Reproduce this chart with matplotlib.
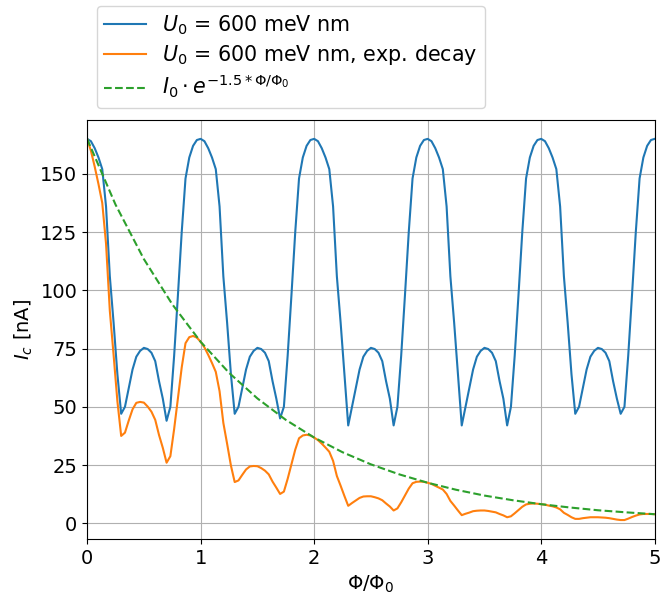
import numpy as np
import matplotlib
matplotlib.use("Agg")
import matplotlib.pyplot as plt
from matplotlib.ticker import MultipleLocator

plt.rcParams['font.size'] = 14

# flux axis, Phi/Phi0 (151 samples, 0..5)
phi = np.linspace(0, 5, 151)

# critical current, U0 = 600 meV nm  [nA]
ic_blue = [
    165, 164, 161, 157, 152, 136, 106, 86, 64, 47, 50, 58, 66, 71.5, 74, 75.3, 74.8, 73.2, 69.6, 61, 53.5, 44, 50, 72, 98, 125, 148, 157, 162, 164.5,
    165, 164, 161, 157, 152, 136, 106, 86, 64, 47, 50, 58, 66, 71.5, 74, 75.3, 74.8, 73.2, 69.6, 61, 53.5, 45, 50, 72, 98, 125, 148, 157, 162, 164.5,
    165, 164, 161, 157, 152, 136, 106, 86, 64, 42, 50, 58, 66, 71.5, 74, 75.3, 74.8, 73.2, 69.6, 61, 53.5, 42, 50, 72, 98, 125, 148, 157, 162, 164.5,
    165, 164, 161, 157, 152, 136, 106, 86, 64, 42, 50, 58, 66, 71.5, 74, 75.3, 74.8, 73.2, 69.6, 61, 53.5, 42, 50, 72, 98, 125, 148, 157, 162, 164.5,
    165, 164, 161, 157, 152, 136, 106, 86, 64, 47, 50, 58, 66, 71.5, 74, 75.3, 74.8, 73.2, 69.6, 61, 53.5, 47, 50, 72, 98, 125, 148, 157, 162, 164.5,
    165,
]

# critical current, U0 = 600 meV nm with exponential decay  [nA]
ic_orange = [
    165, 159.9, 153.1, 145.6, 137.5, 120.0, 91.2, 72.2, 52.4, 37.5, 38.9, 44.1, 48.9, 51.7, 52.1, 51.8, 50.1, 47.9, 44.4, 37.9, 32.4, 26.0, 28.8, 40.5, 53.8, 66.9, 77.3, 79.9, 80.4, 79.7,
    77.9, 75.5, 72.3, 68.8, 65.0, 56.7, 43.1, 34.1, 24.8, 17.7, 18.4, 20.8, 23.1, 24.4, 24.6, 24.5, 23.7, 22.6, 21.0, 17.9, 15.3, 12.6, 13.6, 19.1, 25.4, 31.6, 36.5, 37.7, 38.0, 37.7,
    36.8, 35.7, 34.2, 32.5, 30.7, 26.8, 20.3, 16.1, 11.7, 7.5, 8.7, 9.8, 10.9, 11.5, 11.6, 11.6, 11.2, 10.7, 9.9, 8.5, 7.2, 5.5, 6.4, 9.0, 12.0, 14.9, 17.2, 17.8, 17.9, 17.8,
    17.4, 16.9, 16.1, 15.3, 14.5, 12.6, 9.6, 7.6, 5.5, 3.5, 4.1, 4.6, 5.2, 5.4, 5.5, 5.5, 5.3, 5.0, 4.7, 4.0, 3.4, 2.6, 3.0, 4.3, 5.7, 7.1, 8.1, 8.4, 8.5, 8.4,
    8.2, 8.0, 7.6, 7.3, 6.8, 6.0, 4.5, 3.6, 2.6, 1.9, 1.9, 2.2, 2.4, 2.6, 2.6, 2.6, 2.5, 2.4, 2.2, 1.9, 1.6, 1.4, 1.4, 2.0, 2.7, 3.3, 3.8, 4.0, 4.0, 4.0,
    3.9,
]

# exponential envelope, read at steps of 0.25
phi_env = [0, 0.25, 0.5, 0.75, 1, 1.25, 1.5, 1.75, 2, 2.25, 2.5, 2.75, 3, 3.25, 3.5, 3.75, 4, 4.25, 4.5, 4.75, 5]
ic_env = [165, 136.8, 113.4, 94.0, 77.9, 64.6, 53.6, 44.4, 36.8, 30.5, 25.3, 21.0, 17.4, 14.4, 11.9, 9.9, 8.2, 6.8, 5.6, 4.7, 3.9]

labels = [r"$U_0$ = 600 meV nm",
          r"$U_0$ = 600 meV nm, exp. decay",
          r"$I_0 \cdot e^{-1.5 * \Phi/\Phi_0}$"]

fig = plt.figure(figsize=(6.6, 5.99), dpi=100)
ax = fig.add_axes([0.132, 0.100, 0.860, 0.700])

ax.plot(phi, ic_blue, color="tab:blue", lw=1.5, label=labels[0])
ax.plot(phi, ic_orange, color="tab:orange", lw=1.5, label=labels[1])
ax.plot(phi_env, ic_env, color="tab:green", ls="--", lw=1.5, label=labels[2])

ax.set_xlim(0, 5)
ax.yaxis.set_major_locator(MultipleLocator(25))
ax.set_xlabel(r"$\Phi/\Phi_0$")
ax.set_ylabel(r"$I_c$ [nA]")
ax.grid(True)

fig.legend(loc="upper left", bbox_to_anchor=(0.147, 0.99), borderaxespad=0,
           fontsize=14.9, labelspacing=0.3, borderpad=0.35)

fig.savefig("out.png", dpi=100)
